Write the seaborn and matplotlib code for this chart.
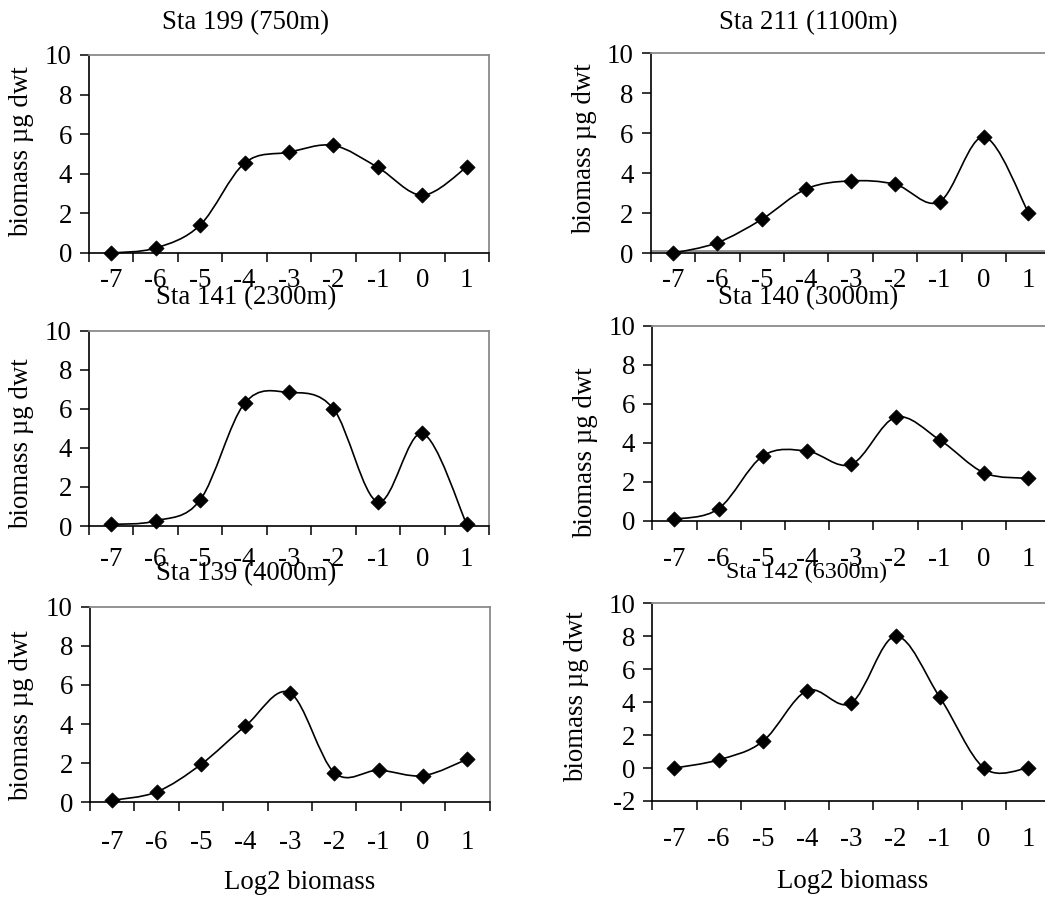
import numpy as np
import pandas as pd
import matplotlib
matplotlib.use("Agg")
import matplotlib.pyplot as plt
import seaborn as sns
from matplotlib.path import Path
from matplotlib.patches import PathPatch

# ---------------- data ----------------
size_classes = ['-7', '-6', '-5', '-4', '-3', '-2', '-1', '0', '1']
sta199 = [0.00, 0.25, 1.41, 4.54, 5.09, 5.43, 4.32, 2.92, 4.34]
sta211 = [0.00, 0.53, 1.70, 3.22, 3.62, 3.45, 2.58, 5.82, 2.03]
sta141 = [0.08, 0.26, 1.33, 6.28, 6.84, 6.00, 1.23, 4.74, 0.08]
sta140 = [0.09, 0.63, 3.33, 3.58, 2.90, 5.31, 4.15, 2.47, 2.18]
sta139 = [0.10, 0.53, 1.94, 3.90, 5.60, 1.52, 1.64, 1.36, 2.21]
sta142 = [0.00, 0.50, 1.62, 4.70, 3.95, 8.00, 4.30, 0.00, 0.00]
titles = ['Sta 199 (750m)', 'Sta 211 (1100m)', 'Sta 141 (2300m)',
          'Sta 140 (3000m)', 'Sta 139 (4000m)', 'Sta 142 (6300m)']
ylabel = 'biomass µg dwt'
xlabel = 'Log2 biomass'

# ---------------- style ----------------
sns.set_theme(style="ticks")
plt.rcParams['font.family'] = ['Liberation Serif', 'DejaVu Serif']
W, H = 1045, 898
fig = plt.figure(figsize=(W / 100, H / 100), dpi=100)
GRAY = '#8a8a8a'
FS = 19.4


def smooth_path(x, y):
    pts = np.column_stack([x, y]).astype(float)
    n = len(pts)
    verts = [pts[0]]
    codes = [Path.MOVETO]
    for i in range(n - 1):
        p0 = pts[i - 1] if i > 0 else pts[i]
        p1 = pts[i]
        p2 = pts[i + 1]
        p3 = pts[i + 2] if i + 2 < n else pts[i + 1]
        c1 = p1 + (p2 - p0) / 6.0
        c2 = p2 - (p3 - p1) / 6.0
        verts += [c1, c2, p2]
        codes += [Path.CURVE4] * 3
    return Path(verts, codes)


def px_rect(left, top, right, bottom):
    return [left / W, 1 - bottom / H, (right - left) / W, (bottom - top) / H]


# panel specs: values, title, title size, (left, top, right, bottom) px, ylim,
# x tick label pad px, title (x, baseline y), ylabel centre (x, y), gray bottom
panels = [
    (sta199, titles[0], FS, (89, 55, 489, 253), (0, 10), 15, (246, 29), (22, 152), None),
    (sta211, titles[1], FS, (650.7, 53.3, 1050.7, 253.3), (0, 10), 15, (808, 29), (585, 149), 0.13),
    (sta141, titles[2], FS, (89, 330.7, 489, 526), (0, 10), 21, (246, 304), (22, 444), None),
    (sta140, titles[3], FS, (652.3, 325.7, 1050.3, 521), (0, 10), 26, (808, 304), (586, 453), None),
    (sta139, titles[4], FS, (90, 606.7, 489.7, 802.3), (0, 10), 28, (246, 580), (22, 716), None),
    (sta142, titles[5], 17.3, (652.3, 603.3, 1050.3, 801), (-2, 10), 26, (807, 578), (577, 697), None),
]

xpos = np.arange(len(size_classes))

for vals, title, tsize, rect, ylim, xpad, tpos, ypos, gray_line in panels:
    ax = fig.add_axes(px_rect(*rect))
    df = pd.DataFrame({'x': xpos, 'biomass': vals})
    patch = PathPatch(smooth_path(df['x'], df['biomass']), facecolor='none',
                      edgecolor='black', lw=1.2, clip_on=False, zorder=3)
    ax.add_patch(patch)
    sns.scatterplot(data=df, x='x', y='biomass', ax=ax, marker='D', s=60,
                    color='black', edgecolor='black', linewidth=0.5,
                    clip_on=False, zorder=4)
    ax.set_xlim(-0.5, len(size_classes) - 0.5)
    ax.set_ylim(*ylim)
    ax.set_xlabel('')
    ax.set_ylabel('')
    if gray_line is not None:
        ax.axhline(gray_line, color=GRAY, lw=1.3, zorder=1)

    ax.set_xticks(np.arange(-0.5, len(size_classes)), labels=[''] * (len(size_classes) + 1))
    ax.set_xticks(xpos, labels=size_classes, minor=True)
    ax.set_yticks(np.arange(ylim[0], 10.1, 2))
    ax.set_yticklabels([str(int(v)) for v in np.arange(ylim[0], 10.1, 2)])

    ax.tick_params(axis='x', which='major', direction='out', length=6.5, width=1.1,
                   color='black', labelsize=FS)
    ax.tick_params(axis='x', which='minor', length=0, pad=xpad * 0.72,
                   labelsize=FS, labelcolor='black')
    ax.tick_params(axis='y', which='major', direction='out', length=6.5, width=1.1,
                   pad=5.8, labelsize=FS, color='black', labelcolor='black')

    for s in ('left', 'bottom'):
        ax.spines[s].set_color('black')
        ax.spines[s].set_linewidth(1.2)
    for s in ('top', 'right'):
        ax.spines[s].set_color(GRAY)
        ax.spines[s].set_linewidth(1.3)
    ax.set_facecolor('white')
    ax.grid(False)

    fig.text(tpos[0] / W, 1 - tpos[1] / H, title, ha='center', va='baseline',
             fontsize=tsize, color='black')
    fig.text(ypos[0] / W, 1 - ypos[1] / H, ylabel, ha='center', va='center',
             rotation=90, fontsize=FS, color='black')

fig.text(300 / W, 1 - 889 / H, xlabel, ha='center', va='baseline', fontsize=FS, color='black')
fig.text(853 / W, 1 - 888 / H, xlabel, ha='center', va='baseline', fontsize=FS, color='black')

fig.savefig('out.png', dpi=100, facecolor='white')
